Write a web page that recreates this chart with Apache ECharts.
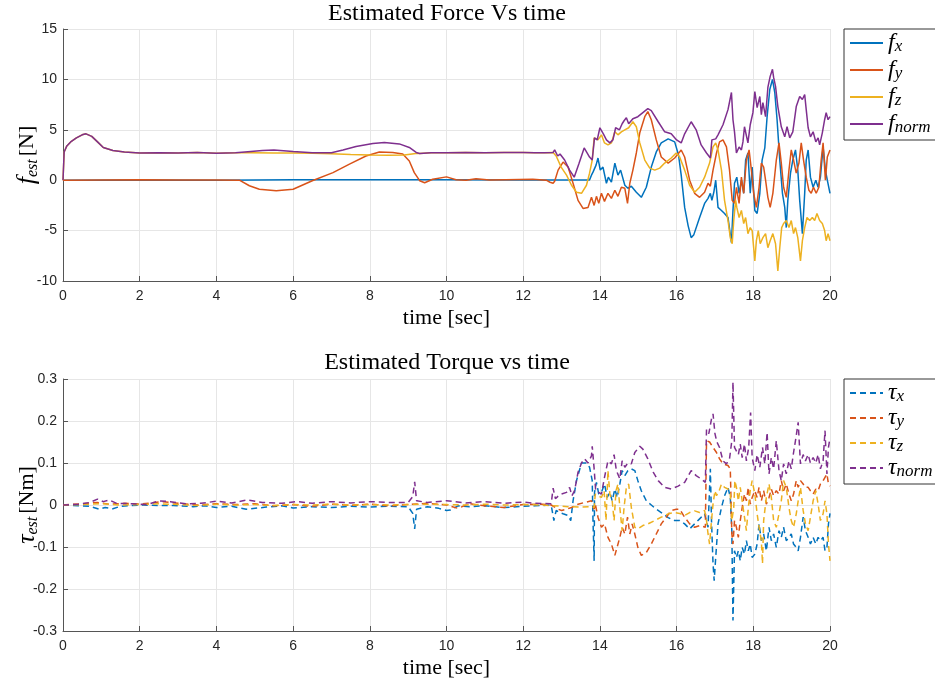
<!DOCTYPE html>
<html>
<head>
<meta charset="utf-8">
<script src="https://cdn.jsdelivr.net/npm/echarts@6/dist/echarts.min.js"></script>
<style>html,body{margin:0;padding:0;background:#fff;}#c{width:935px;height:682px;}</style>
</head>
<body>
<div id="c"></div>
<script>
// ---------- Data (time [s], value) ----------
const forceTicks = [-10, -5, 0, 5, 10, 15];
const torqueTicks = [-0.3, -0.2, -0.1, 0, 0.1, 0.2, 0.3];
const timeTicks = [0, 2, 4, 6, 8, 10, 12, 14, 16, 18, 20];

const fNorm = [[0,0],[0.03,2.8],[0.1,3.4],[0.2,3.8],[0.35,4.2],[0.5,4.5],[0.6,4.6],[0.75,4.35],[0.9,3.8],[1.05,3.25],[1.3,2.95],[1.6,2.8],[2.0,2.7],[2.5,2.72],[3.0,2.7],[3.5,2.75],[4.0,2.68],[4.5,2.72],[4.9,2.85],[5.2,2.95],[5.5,3.0],[6.0,2.85],[6.5,2.72],[7.0,2.72],[7.3,3.0],[7.64,3.35],[8.08,3.65],[8.38,3.75],[8.77,3.6],[9.03,3.25],[9.21,2.75],[9.3,2.65],[9.6,2.72],[10,2.72],[10.5,2.75],[11,2.72],[11.5,2.74],[12,2.75],[12.3,2.72],[12.55,2.72],[12.78,2.75],[12.82,3.0],[12.9,2.4],[12.96,2.6],[13.08,2.0],[13.21,1.0],[13.33,0.3],[13.45,1.6],[13.59,3.2],[13.73,2.3],[13.8,2.0],[13.86,4.2],[13.93,4.0],[14.0,5.2],[14.09,4.6],[14.17,4.0],[14.26,3.7],[14.34,4.0],[14.41,5.2],[14.51,5.0],[14.58,5.6],[14.63,5.9],[14.69,6.2],[14.75,5.6],[14.86,6.1],[14.99,6.3],[15.12,6.7],[15.25,7.1],[15.34,6.9],[15.52,5.8],[15.69,4.8],[15.86,4.6],[16.0,4.0],[16.12,3.7],[16.21,4.6],[16.38,5.8],[16.51,5.0],[16.64,3.5],[16.78,2.7],[16.88,2.2],[16.92,4.0],[17.02,4.1],[17.08,4.5],[17.21,5.5],[17.34,7.0],[17.43,8.7],[17.47,6.0],[17.51,4.8],[17.56,2.7],[17.63,3.3],[17.69,3.0],[17.73,3.8],[17.77,5.3],[17.86,3.7],[17.92,5.5],[17.99,6.7],[18.04,8.8],[18.1,7.2],[18.17,8.3],[18.21,6.5],[18.25,7.7],[18.32,6.3],[18.38,9.2],[18.44,10.3],[18.5,11.0],[18.53,10.2],[18.58,9.3],[18.64,7.3],[18.73,5.3],[18.82,4.3],[18.88,5.3],[18.95,4.2],[19.03,4.8],[19.12,7.3],[19.21,8.3],[19.28,8.0],[19.34,8.5],[19.38,7.0],[19.43,5.2],[19.49,4.3],[19.56,4.8],[19.63,3.8],[19.69,4.2],[19.73,3.5],[19.8,4.7],[19.86,6.0],[19.9,6.7],[19.95,6.0],[20.0,6.3]];

const fX = [[0,0],[2,0.02],[4,0.0],[6,0.05],[8,0.05],[10,0.05],[12,0.03],[13.73,0.03],[13.78,0.5],[13.82,0.8],[13.9,1.5],[13.95,2.2],[14.01,1.0],[14.08,1.3],[14.17,-0.3],[14.22,0.3],[14.3,-0.2],[14.39,1.7],[14.47,0.5],[14.54,1.0],[14.65,-0.5],[14.73,-0.8],[14.82,-0.6],[14.95,-1.2],[15.08,-1.7],[15.21,-0.7],[15.34,1.3],[15.47,2.8],[15.6,3.7],[15.78,4.1],[15.95,3.8],[16.05,2.5],[16.12,0.5],[16.21,-2.7],[16.3,-4.5],[16.38,-5.7],[16.45,-5.4],[16.6,-3.7],[16.73,-2.3],[16.82,-1.8],[16.88,-1.3],[16.92,-2.0],[16.97,-1.2],[17.02,0],[17.08,-2.7],[17.17,-3.0],[17.25,-3.3],[17.34,-3.7],[17.43,-6.2],[17.47,-3.0],[17.51,-0.3],[17.57,0.3],[17.63,-1.3],[17.69,0],[17.75,-1.3],[17.8,2.0],[17.86,2.7],[17.92,-1.3],[17.97,1.3],[18.04,-3.0],[18.1,-3.3],[18.17,-1.3],[18.23,2.0],[18.3,3.2],[18.36,6.3],[18.43,9.0],[18.5,10.0],[18.56,8.7],[18.62,6.0],[18.69,2.0],[18.76,-1.3],[18.82,-2.7],[18.86,-4.7],[18.9,-2.0],[18.97,0.7],[19.03,2.0],[19.1,3.0],[19.16,1.0],[19.21,-2.0],[19.28,-5.3],[19.34,-1.3],[19.38,2.0],[19.43,3.0],[19.49,0.3],[19.56,-0.7],[19.63,0],[19.69,-0.7],[19.75,0.3],[19.82,3.3],[19.88,1.0],[19.93,0],[20,-1.3]];

const fY = [[0,0],[1,0.02],[2,0.05],[3,0.02],[4,0.03],[4.6,0.0],[4.86,-0.55],[5.12,-0.9],[5.56,-1.05],[6.0,-0.9],[6.5,-0.05],[7.04,0.75],[7.47,1.6],[7.9,2.4],[8.25,2.8],[8.6,2.75],[8.86,2.6],[9.03,1.9],[9.16,0.75],[9.3,-0.05],[9.43,-0.25],[9.64,0.1],[10.0,0.33],[10.25,0.05],[10.51,0.0],[10.77,0.15],[11.12,0.02],[11.55,0.05],[12.25,0.1],[12.6,0.0],[12.7,-0.2],[12.78,-0.3],[12.82,-0.1],[12.91,1.0],[13.04,1.8],[13.17,1.3],[13.3,-0.3],[13.43,-2.0],[13.56,-2.8],[13.69,-2.7],[13.78,-1.7],[13.85,-2.5],[13.91,-1.6],[13.97,-2.3],[14.04,-1.3],[14.12,-2.1],[14.21,-1.3],[14.3,-1.8],[14.39,-1.0],[14.47,-1.6],[14.56,-0.7],[14.65,-0.8],[14.72,-2.3],[14.78,-0.3],[14.86,1.0],[14.95,2.7],[15.04,4.7],[15.17,6.3],[15.25,6.8],[15.34,6.0],[15.47,4.0],[15.6,2.3],[15.78,1.7],[15.95,2.2],[16.12,3.0],[16.21,2.3],[16.34,0],[16.47,-1.3],[16.6,-1.7],[16.73,-1.2],[16.82,-0.3],[16.88,-0.6],[16.95,1.0],[17.04,2.7],[17.12,3.8],[17.21,4.0],[17.3,3.3],[17.38,1.0],[17.45,-2.0],[17.51,-2.3],[17.56,-0.7],[17.63,-2.3],[17.69,0.3],[17.75,-1.3],[17.82,2.0],[17.89,3.0],[17.95,1.0],[18.01,-1.3],[18.08,-2.7],[18.15,-0.7],[18.21,1.7],[18.27,1.3],[18.32,0],[18.38,-1.7],[18.44,-2.7],[18.51,-1.3],[18.6,2.0],[18.67,3.7],[18.73,1.7],[18.79,-0.7],[18.86,-1.7],[18.93,1.0],[18.99,3.0],[19.05,2.0],[19.12,0.7],[19.19,1.7],[19.25,3.7],[19.31,2.0],[19.38,0.3],[19.45,-1.0],[19.51,-1.3],[19.57,-0.7],[19.64,-1.3],[19.71,-0.7],[19.77,2.0],[19.82,3.7],[19.88,0],[19.93,2.3],[20,3.0]];

const fZ = [[0,0],[0.03,2.8],[0.1,3.4],[0.2,3.8],[0.35,4.2],[0.5,4.5],[0.6,4.6],[0.75,4.35],[0.9,3.8],[1.05,3.25],[1.3,2.95],[1.6,2.8],[2.0,2.7],[2.5,2.72],[3.0,2.7],[3.5,2.75],[4.0,2.68],[4.5,2.72],[4.9,2.72],[5.5,2.7],[6.0,2.7],[6.5,2.68],[7.0,2.62],[7.5,2.55],[8.0,2.5],[8.5,2.48],[8.9,2.5],[9.2,2.65],[9.3,2.65],[9.6,2.72],[10,2.72],[10.5,2.75],[11,2.72],[11.5,2.74],[12,2.75],[12.3,2.72],[12.55,2.72],[12.78,2.75],[12.86,2.4],[12.99,1.3],[13.13,0.5],[13.26,-0.5],[13.39,-1.2],[13.52,-1.3],[13.65,-0.5],[13.73,0.7],[13.8,2.0],[13.85,4.2],[13.95,4.0],[14.04,4.5],[14.12,3.7],[14.21,3.5],[14.3,3.7],[14.39,4.8],[14.47,4.5],[14.56,4.8],[14.65,5.0],[14.75,5.2],[14.86,5.8],[14.95,5.3],[15.04,3.7],[15.17,2.0],[15.3,1.2],[15.43,1.0],[15.56,1.2],[15.69,1.7],[15.86,2.2],[15.99,2.7],[16.08,2.3],[16.21,1.0],[16.34,-0.5],[16.47,-1.2],[16.6,-0.7],[16.73,0.3],[16.86,1.7],[16.95,3.3],[17.02,3.7],[17.08,3.0],[17.17,1.0],[17.25,-2.0],[17.34,-4.0],[17.4,-5.7],[17.45,-6.3],[17.49,-4.0],[17.54,-2.0],[17.57,-2.7],[17.63,-3.7],[17.69,-3.0],[17.75,-4.3],[17.8,-3.7],[17.86,-5.3],[17.92,-4.7],[17.97,-5.0],[18.04,-8.0],[18.08,-6.0],[18.13,-5.0],[18.18,-6.3],[18.25,-5.7],[18.32,-5.3],[18.38,-6.7],[18.44,-6.0],[18.51,-5.3],[18.58,-6.3],[18.64,-9.0],[18.69,-6.7],[18.74,-4.7],[18.79,-4.3],[18.86,-4.0],[18.93,-4.7],[18.99,-4.0],[19.05,-5.3],[19.1,-4.7],[19.16,-5.7],[19.23,-8.0],[19.28,-6.0],[19.34,-4.7],[19.4,-3.7],[19.47,-4.0],[19.54,-3.7],[19.6,-4.0],[19.66,-3.3],[19.73,-4.0],[19.8,-4.3],[19.86,-5.0],[19.9,-6.0],[19.95,-5.3],[20,-6.0]];

const tauNorm = [[0,0],[0.4,0.002],[0.7,0.006],[0.9,0.014],[1.05,0.008],[1.2,0.012],[1.4,0.004],[1.8,0.003],[2.2,0.001],[2.5,0.01],[2.8,0.008],[3.2,0.003],[3.6,0.004],[4.0,0.009],[4.4,0.005],[4.8,0.012],[5.2,0.006],[5.7,0.004],[6.1,0.008],[6.5,0.004],[7.0,0.008],[7.5,0.005],[8.0,0.008],[8.5,0.006],[9.0,0.006],[9.12,0.02],[9.17,0.055],[9.22,0.01],[9.5,0.006],[10.0,0.01],[10.5,0.005],[11.0,0.008],[11.5,0.004],[12.0,0.007],[12.3,0.004],[12.73,0.003],[12.78,0.04],[12.84,0.015],[12.92,0.022],[13.0,0.026],[13.13,0.03],[13.21,0.042],[13.27,0.022],[13.34,0.034],[13.43,0.078],[13.52,0.1],[13.6,0.11],[13.69,0.1],[13.78,0.117],[13.8,0.14],[13.85,0.086],[13.89,0.034],[13.97,0.03],[14.04,0.026],[14.12,0.066],[14.21,0.105],[14.3,0.098],[14.37,0.12],[14.43,0.082],[14.52,0.062],[14.58,0.105],[14.65,0.09],[14.73,0.1],[14.82,0.098],[14.91,0.125],[15.04,0.14],[15.12,0.133],[15.25,0.11],[15.39,0.078],[15.52,0.058],[15.69,0.042],[15.86,0.038],[16.04,0.045],[16.21,0.054],[16.38,0.082],[16.51,0.07],[16.64,0.062],[16.75,0.054],[16.78,0.18],[16.84,0.17],[16.91,0.205],[16.95,0.217],[17.0,0.17],[17.05,0.15],[17.12,0.137],[17.21,0.105],[17.3,0.098],[17.38,0.11],[17.44,0.153],[17.47,0.292],[17.51,0.137],[17.56,0.14],[17.61,0.12],[17.66,0.145],[17.71,0.113],[17.77,0.145],[17.82,0.105],[17.88,0.137],[17.93,0.22],[17.97,0.113],[18.04,0.082],[18.1,0.12],[18.17,0.09],[18.24,0.137],[18.3,0.098],[18.36,0.173],[18.41,0.074],[18.47,0.113],[18.53,0.086],[18.6,0.153],[18.67,0.082],[18.73,0.058],[18.79,0.098],[18.86,0.074],[18.93,0.105],[18.99,0.086],[19.05,0.125],[19.12,0.165],[19.17,0.197],[19.23,0.098],[19.3,0.12],[19.36,0.105],[19.43,0.12],[19.49,0.1],[19.56,0.113],[19.63,0.1],[19.69,0.12],[19.75,0.086],[19.82,0.105],[19.87,0.177],[19.92,0.074],[19.96,0.137],[20,0.16]];

const tauX = [[0,0],[0.4,-0.002],[0.7,-0.003],[0.95,-0.01],[1.1,-0.006],[1.3,-0.009],[1.5,-0.003],[2.0,0.0],[2.5,-0.001],[2.87,-0.001],[3.39,-0.004],[3.7,-0.002],[4.0,-0.006],[4.4,-0.003],[4.78,-0.01],[5.3,-0.005],[5.7,-0.002],[6.0,-0.007],[6.5,-0.004],[7.0,-0.006],[7.5,-0.003],[8.0,-0.005],[8.5,-0.003],[9.0,-0.004],[9.12,-0.02],[9.17,-0.057],[9.22,-0.01],[9.5,-0.004],[9.8,-0.008],[10.0,-0.013],[10.1,-0.012],[10.3,-0.002],[10.6,-0.004],[11.0,-0.002],[11.5,-0.006],[12.0,-0.003],[12.3,-0.002],[12.73,0.0],[12.8,-0.037],[12.86,-0.013],[12.95,-0.018],[13.04,-0.021],[13.17,-0.025],[13.24,-0.037],[13.3,0.01],[13.39,0.058],[13.52,0.1],[13.65,0.1],[13.73,0.09],[13.8,0.058],[13.82,-0.037],[13.85,-0.133],[13.86,0.03],[13.91,0.054],[13.97,0.026],[14.04,0.03],[14.12,0.05],[14.19,0.018],[14.26,0.03],[14.32,0.01],[14.39,0.038],[14.45,0.018],[14.52,0.05],[14.58,0.082],[14.65,0.07],[14.73,0.082],[14.82,0.086],[14.91,0.082],[14.99,0.058],[15.08,0.034],[15.21,0.01],[15.34,0.0],[15.47,-0.01],[15.6,-0.018],[15.78,-0.03],[15.95,-0.037],[16.08,-0.037],[16.21,-0.045],[16.34,-0.057],[16.47,-0.045],[16.6,-0.033],[16.73,-0.021],[16.82,-0.053],[16.88,0.086],[16.91,-0.037],[16.95,-0.14],[16.98,-0.18],[17.02,-0.125],[17.08,-0.045],[17.17,-0.006],[17.25,0.022],[17.34,0.042],[17.4,0.018],[17.44,-0.061],[17.47,-0.275],[17.51,-0.109],[17.56,-0.125],[17.61,-0.109],[17.66,-0.133],[17.71,-0.101],[17.77,-0.117],[17.82,-0.085],[17.87,-0.109],[17.92,-0.093],[17.97,-0.125],[18.04,-0.117],[18.1,-0.093],[18.15,-0.045],[18.21,-0.085],[18.27,-0.069],[18.34,-0.109],[18.41,-0.053],[18.47,-0.085],[18.53,-0.069],[18.6,-0.101],[18.67,-0.061],[18.73,-0.077],[18.79,-0.053],[18.86,-0.085],[18.93,-0.077],[18.99,-0.069],[19.05,-0.093],[19.12,-0.101],[19.17,-0.109],[19.23,-0.077],[19.3,-0.029],[19.36,-0.061],[19.43,-0.077],[19.49,-0.093],[19.56,-0.077],[19.63,-0.093],[19.69,-0.077],[19.75,-0.085],[19.82,-0.077],[19.87,-0.109],[19.92,-0.101],[19.96,-0.045],[20,-0.02]];

const tauY = [[0,0],[0.5,0.003],[0.9,0.006],[1.2,0.002],[1.6,0.004],[2.0,0.002],[2.6,0.008],[3.0,0.004],[3.5,0.0],[4.0,0.003],[4.5,0.001],[5.0,0.003],[5.5,-0.002],[6.0,0.001],[6.5,-0.003],[7.0,0.002],[7.5,-0.001],[8.0,0.002],[8.5,-0.002],[9.0,0.001],[9.5,0.004],[10.0,0.0],[10.3,-0.008],[10.6,0.003],[11.0,-0.002],[11.5,-0.006],[12.0,0.001],[12.5,0.002],[12.73,0.0],[12.91,-0.01],[13.0,-0.013],[13.13,-0.01],[13.26,-0.006],[13.43,0.002],[13.6,0.006],[13.78,0.01],[13.85,-0.01],[13.88,0.002],[13.95,-0.029],[14.04,-0.053],[14.12,-0.045],[14.21,-0.077],[14.3,-0.093],[14.39,-0.12],[14.45,-0.1],[14.52,-0.077],[14.58,-0.053],[14.65,-0.069],[14.72,-0.029],[14.78,-0.069],[14.84,-0.045],[14.91,-0.069],[14.99,-0.101],[15.08,-0.12],[15.21,-0.113],[15.34,-0.093],[15.47,-0.069],[15.6,-0.045],[15.73,-0.029],[15.86,-0.013],[15.99,-0.01],[16.08,-0.01],[16.21,-0.029],[16.34,-0.045],[16.47,-0.053],[16.6,-0.049],[16.75,-0.053],[16.78,0.153],[16.86,0.15],[16.95,0.137],[17.04,0.125],[17.12,0.11],[17.21,0.098],[17.34,0.094],[17.4,0.086],[17.44,-0.069],[17.47,-0.093],[17.51,-0.037],[17.56,-0.053],[17.61,-0.077],[17.66,-0.037],[17.71,-0.006],[17.77,0.026],[17.82,0.01],[17.87,0.042],[17.92,0.002],[17.97,0.018],[18.04,0.034],[18.1,0.018],[18.15,0.042],[18.21,0.01],[18.27,0.034],[18.34,0.002],[18.41,0.018],[18.47,0.038],[18.53,0.022],[18.6,0.034],[18.67,0.026],[18.73,0.058],[18.79,0.034],[18.86,0.05],[18.93,0.026],[18.99,0.01],[19.05,0.026],[19.12,0.058],[19.17,0.042],[19.23,0.058],[19.3,0.05],[19.36,0.042],[19.43,0.042],[19.49,0.034],[19.56,0.026],[19.63,0.038],[19.69,0.034],[19.75,0.05],[19.82,0.058],[19.87,0.066],[19.92,0.074],[19.96,0.05],[20,0.045]];

const tauZ = [[0,0],[0.5,0.001],[1.0,0.003],[1.5,0.0],[2.0,0.001],[2.5,0.003],[3.0,0.001],[3.5,-0.001],[4.0,0.002],[4.5,0.0],[5.0,0.001],[5.5,-0.001],[6.0,0.001],[6.5,0.0],[7.0,0.002],[7.5,0.0],[8.0,0.001],[8.5,0.0],[9.0,0.001],[9.5,0.002],[10.0,0.001],[10.5,0.0],[11.0,0.002],[11.5,0.0],[12.0,0.001],[12.5,0.0],[13.17,-0.004],[13.5,-0.005],[13.78,-0.004],[13.85,-0.006],[13.88,0.026],[13.95,0.022],[14.04,0.018],[14.11,0.034],[14.16,-0.037],[14.21,0.082],[14.26,0.026],[14.32,0.01],[14.37,-0.037],[14.42,0.034],[14.47,0.05],[14.52,-0.006],[14.58,-0.061],[14.63,-0.006],[14.69,0.042],[14.75,0.05],[14.82,-0.006],[14.91,-0.053],[14.99,-0.057],[15.12,-0.049],[15.25,-0.045],[15.43,-0.037],[15.6,-0.029],[15.78,-0.021],[15.95,-0.018],[16.08,-0.02],[16.21,-0.025],[16.34,-0.018],[16.47,-0.014],[16.6,-0.018],[16.73,-0.013],[16.78,-0.037],[16.82,-0.069],[16.86,-0.093],[16.91,-0.037],[16.95,0.002],[17.0,0.034],[17.04,0.022],[17.11,0.034],[17.17,0.05],[17.25,0.042],[17.34,0.038],[17.4,0.026],[17.44,-0.037],[17.49,-0.006],[17.52,0.058],[17.56,0.042],[17.61,0.01],[17.66,0.042],[17.71,0.01],[17.77,-0.029],[17.82,-0.061],[17.87,-0.006],[17.92,0.034],[17.97,0.058],[18.04,0.026],[18.1,-0.021],[18.15,-0.053],[18.21,-0.085],[18.24,-0.14],[18.27,-0.037],[18.34,0.018],[18.41,0.05],[18.47,0.018],[18.53,-0.037],[18.6,-0.053],[18.67,-0.021],[18.73,0.01],[18.79,0.058],[18.86,0.042],[18.93,-0.006],[18.99,-0.037],[19.05,-0.053],[19.12,-0.021],[19.17,0.01],[19.23,0.042],[19.3,-0.013],[19.36,-0.045],[19.43,-0.061],[19.49,-0.029],[19.56,0.01],[19.63,0.034],[19.69,0.002],[19.75,-0.037],[19.82,-0.021],[19.87,0.01],[19.92,-0.021],[19.96,-0.093],[20,-0.133]];

// ---------- Chart ----------
const C = ['#0072BD', '#D95319', '#EDB120', '#7E2F8E'];
const SERIF = '"Liberation Serif","DejaVu Serif",serif';
const SANS = '"Liberation Sans",Arial,sans-serif';
const legendNames = {
  fx: '{m|f}{s|x}', fy: '{m|f}{s|y}', fz: '{m|f}{s|z}', fnorm: '{m|f}{s|norm}',
  tx: '{m|τ}{s|x}', ty: '{m|τ}{s|y}', tz: '{m|τ}{s|z}', tnorm: '{m|τ}{s|norm}'
};
const legendRich = {
  m: {fontFamily: SERIF, fontStyle: 'italic', fontSize: 24, lineHeight: 24, color: '#000'},
  s: {fontFamily: SERIF, fontStyle: 'italic', fontSize: 17, lineHeight: 17, color: '#000', verticalAlign: 'bottom', padding: [6, 0, 0, 0]}
};

function xAx(gi) {
  return {
    type: 'value', gridIndex: gi, min: timeTicks[0], max: timeTicks[timeTicks.length - 1], interval: 2,
    name: 'time [sec]', nameLocation: 'middle', nameGap: 26, nameMoveOverlap: false,
    nameTextStyle: {fontFamily: SERIF, fontSize: 22, color: '#000'},
    axisLine: {show: true, onZero: false, lineStyle: {color: '#555', width: 1}},
    axisTick: {show: true, inside: true, length: 5, lineStyle: {color: '#555'}},
    axisLabel: {fontFamily: SANS, fontSize: 14, color: '#262626', margin: 8},
    splitLine: {show: true, lineStyle: {color: '#e6e6e6', width: 1}}
  };
}
function yAx(gi, ticks, name, rich) {
  return {
    type: 'value', gridIndex: gi, min: ticks[0], max: ticks[ticks.length - 1], interval: ticks[1] - ticks[0],
    name: name, nameLocation: 'middle', nameGap: 22, nameRotate: 90, nameMoveOverlap: false,
    nameTextStyle: {rich: rich},
    axisLine: {show: true, lineStyle: {color: '#555', width: 1}},
    axisTick: {show: true, inside: true, length: 5, lineStyle: {color: '#555'}},
    axisLabel: {fontFamily: SANS, fontSize: 14, color: '#262626', margin: 6,
      formatter: v => (Math.abs(v) < 1e-9 ? '0' : String(+v.toFixed(2)))},
    splitLine: {show: true, lineStyle: {color: '#e6e6e6', width: 1}}
  };
}
const yRich = {
  m: {fontFamily: SERIF, fontStyle: 'italic', fontSize: 26, lineHeight: 28, color: '#000'},
  s: {fontFamily: SERIF, fontStyle: 'italic', fontSize: 16, lineHeight: 16, color: '#000', verticalAlign: 'bottom', padding: [8, 0, 0, 0]},
  n: {fontFamily: SERIF, fontSize: 22, lineHeight: 28, color: '#000', padding: [0, 0, 0, 3]}
};

function line(name, data, color, xi, dashed) {
  return {
    name: name, type: 'line', xAxisIndex: xi, yAxisIndex: xi, data: data,
    symbol: 'none', showSymbol: false, animation: false,
    lineStyle: {color: color, width: 1.5, type: dashed ? [6, 4] : 'solid'},
    itemStyle: {color: color}
  };
}

const legendBase = {
  orient: 'vertical', left: 844, itemWidth: 33, itemHeight: 14,
  padding: [2, 8, 4, 5], borderColor: '#333', borderWidth: 1, backgroundColor: '#fff',
  itemStyle: {opacity: 0, borderWidth: 0},
  formatter: n => legendNames[n], textStyle: {rich: legendRich}
};

const chart = echarts.init(document.getElementById('c'), null, {renderer: 'canvas'});
chart.setOption({
  animation: false,
  backgroundColor: '#fff',
  title: [
    {text: 'Estimated Force Vs time', left: 447, top: 2, padding: 0, textAlign: 'center',
      textStyle: {fontFamily: SERIF, fontSize: 24, fontWeight: 'normal', color: '#000'}},
    {text: 'Estimated Torque vs time', left: 447, top: 351, padding: 0, textAlign: 'center',
      textStyle: {fontFamily: SERIF, fontSize: 24, fontWeight: 'normal', color: '#000'}}
  ],
  grid: [
    {left: 63, top: 29, width: 767, height: 252, containLabel: false, outerBoundsMode: 'none'},
    {left: 63, top: 379, width: 767, height: 252, containLabel: false, outerBoundsMode: 'none'}
  ],
  legend: [
    Object.assign({}, legendBase, {data: ['fx', 'fy', 'fz', 'fnorm'], top: 29, itemGap: 3}),
    Object.assign({}, legendBase, {data: ['tx', 'ty', 'tz', 'tnorm'], top: 379, itemGap: 1})
  ],
  xAxis: [xAx(0), xAx(1)],
  yAxis: [
    yAx(0, forceTicks, '{m|f}{s|est}{n|[N]}', yRich),
    yAx(1, torqueTicks, '{m|τ}{s|est}{n|[Nm]}', yRich)
  ],
  series: [
    line('fx', fX, C[0], 0, false),
    line('fy', fY, C[1], 0, false),
    line('fz', fZ, C[2], 0, false),
    line('fnorm', fNorm, C[3], 0, false),
    line('tx', tauX, C[0], 1, true),
    line('ty', tauY, C[1], 1, true),
    line('tz', tauZ, C[2], 1, true),
    line('tnorm', tauNorm, C[3], 1, true)
  ]
});
</script>
</body>
</html>
